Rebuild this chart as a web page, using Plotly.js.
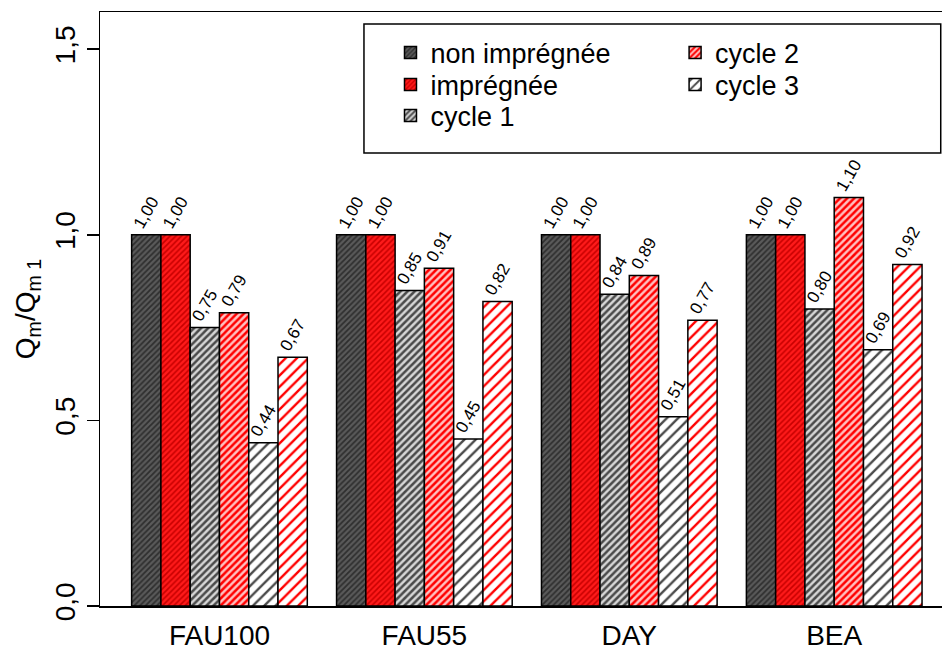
<!DOCTYPE html>
<html>
<head>
<meta charset="utf-8">
<script src="https://cdn.plot.ly/plotly-3.0.1.min.js"></script>
<style>html,body{margin:0;padding:0;background:#fff}#chart{width:942px;height:650px}</style>
</head>
<body>
<div id="chart"></div>
<script>
var categories = ["FAU100", "FAU55", "DAY", "BEA"];
var seriesNames = ["non imprégnée", "imprégnée", "cycle 1", "cycle 2", "cycle 3", "cycle 3 (imprégnée)"];
var nonImpregnee = [1.00, 1.00, 1.00, 1.00];
var impregnee    = [1.00, 1.00, 1.00, 1.00];
var cycle1       = [0.75, 0.85, 0.84, 0.80];
var cycle2       = [0.79, 0.91, 0.89, 1.10];
var cycle3       = [0.44, 0.45, 0.51, 0.69];
var cycle3Imp    = [0.67, 0.82, 0.77, 0.92];
var yTickValues  = [0, 0.5, 1.0, 1.5];

var seriesValues = [nonImpregnee, impregnee, cycle1, cycle2, cycle3, cycle3Imp];
var styles = [
  {bg: "#5a5a5a", fg: "#2e2e2e", size: 4, sol: 0.45, legend: "legend",  show: true},
  {bg: "#ff1a1a", fg: "#c80000", size: 4, sol: 0.4,  legend: "legend2", show: true},
  {bg: "#d6d6d6", fg: "#4a4a4a", size: 5, sol: 0.5,  legend: "legend3", show: true},
  {bg: "#ffc0c0", fg: "#ff0000", size: 5, sol: 0.5,  legend: "legend4", show: true},
  {bg: "#ffffff", fg: "#4a4a4a", size: 8, sol: 0.3,  legend: "legend5", show: true},
  {bg: "#ffffff", fg: "#ff0000", size: 8, sol: 0.3,  legend: "legend5", show: false}
];

var FONT = "Liberation Sans, Arial, Helvetica, sans-serif";

var traces = seriesValues.map(function (vals, i) {
  var s = styles[i];
  return {
    type: "bar",
    name: seriesNames[i],
    x: categories,
    y: vals,
    legend: s.legend,
    showlegend: s.show,
    marker: {
      color: s.bg,
      line: {color: "#000", width: 1.5},
      pattern: {shape: "/", bgcolor: s.bg, fgcolor: s.fg, size: s.size, solidity: s.sol, fillmode: "replace"}
    },
    texttemplate: "%{y:.2f}",
    textposition: "outside",
    textangle: -60,
    constraintext: "none",
    cliponaxis: false,
    outsidetextfont: {family: FONT, size: 17, color: "#000"},
    hoverinfo: "x+y+name"
  };
});

function legendAt(xp, yp) {
  return {
    x: xp, y: yp, xanchor: "left", yanchor: "middle",
    bgcolor: "rgba(0,0,0,0)", borderwidth: 0,
    font: {family: FONT, size: 27, color: "#000"}
  };
}

var layout = {
  width: 942,
  height: 650,
  margin: {l: 100, r: 0, t: 12, b: 44},
  paper_bgcolor: "#fff",
  plot_bgcolor: "#fff",
  separators: ",.",
  barmode: "group",
  bargap: 1 / 7,
  bargroupgap: 0,
  font: {family: FONT, color: "#000"},
  xaxis: {
    type: "category",
    range: [-0.583, 3.526],
    showline: true,
    mirror: true,
    linecolor: "#000",
    linewidth: 1.5,
    ticks: "",
    showgrid: false,
    zeroline: false,
    tickfont: {family: FONT, size: 28, color: "#000"},
    ticklabelstandoff: 4
  },
  yaxis: {
    range: [0, 1.6],
    tickvals: yTickValues,
    tickformat: ".1f",
    tickangle: -90,
    ticks: "outside",
    ticklen: 12,
    tickwidth: 1.5,
    tickcolor: "#000",
    showline: true,
    mirror: false,
    linecolor: "#000",
    linewidth: 1.5,
    showgrid: false,
    zeroline: false,
    tickfont: {family: FONT, size: 28, color: "#000"},
    title: {text: "Q<sub>m</sub>/Q<sub>m 1</sub>", font: {family: FONT, size: 28, color: "#000"}, standoff: 6}
  },
  legend:  legendAt(0.345, 0.931),
  legend2: legendAt(0.345, 0.877),
  legend3: legendAt(0.345, 0.825),
  legend4: legendAt(0.683, 0.931),
  legend5: legendAt(0.683, 0.877),
  shapes: [{
    type: "rect", xref: "paper", yref: "paper",
    x0: 0.3135, x1: 0.9985, y0: 0.7626, y1: 0.9798,
    line: {color: "#000", width: 1.5}, fillcolor: "rgba(0,0,0,0)", layer: "above"
  }]
};

Plotly.newPlot("chart", traces, layout, {displayModeBar: false, staticPlot: true});
</script>
</body>
</html>
